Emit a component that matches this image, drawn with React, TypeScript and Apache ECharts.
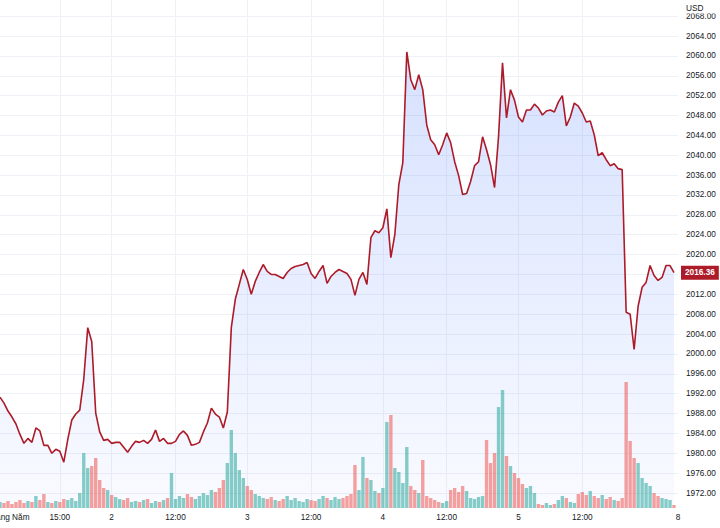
import React, { useEffect, useRef } from "react";
import * as echarts from "echarts";

// Gold price (USD), one sample per slot, 1 May .. 8 May
const prices: number[] = [
  1991.3, 1990.1, 1988.5, 1987.3, 1985.9, 1983.8, 1982.0, 1983.0, 1982.2, 1985.1,
  1984.5, 1981.6, 1981.6, 1980.0, 1980.8, 1980.4, 1978.2, 1982.8, 1986.7, 1987.9,
  1988.7, 1994.9, 2005.3, 2002.5, 1988.1, 1984.3, 1982.6, 1982.8, 1982.0, 1982.2,
  1982.2, 1981.2, 1980.2, 1981.4, 1982.4, 1982.2, 1982.6, 1982.0, 1982.8, 1984.7,
  1982.4, 1983.0, 1982.0, 1982.0, 1982.4, 1983.8, 1984.5, 1983.6, 1981.6, 1981.8,
  1982.2, 1984.3, 1986.1, 1989.1, 1987.9, 1987.3, 1985.1, 1988.3, 2005.3, 2011.0,
  2014.0, 2017.0, 2015.0, 2012.0, 2014.6, 2016.4, 2018.0, 2016.6, 2016.0, 2016.0,
  2015.6, 2015.2, 2016.4, 2017.2, 2017.6, 2017.8, 2018.0, 2018.4, 2016.2, 2015.2,
  2016.6, 2017.8, 2014.2, 2015.6, 2016.4, 2017.0, 2016.6, 2016.2, 2015.0, 2011.8,
  2015.0, 2016.4, 2014.0, 2023.4, 2024.8, 2024.4, 2025.4, 2029.2, 2019.4, 2024.0,
  2034.1, 2038.5, 2060.8, 2055.2, 2053.2, 2056.2, 2053.2, 2046.1, 2043.1, 2042.1,
  2040.1, 2042.1, 2044.5, 2042.5, 2038.7, 2035.9, 2032.1, 2032.3, 2034.7, 2037.9,
  2038.7, 2043.7, 2041.1, 2038.1, 2033.5, 2043.7, 2058.6, 2047.5, 2053.2, 2051.1,
  2047.7, 2046.7, 2049.1, 2049.1, 2050.3, 2049.5, 2048.1, 2048.9, 2049.1, 2048.7,
  2050.7, 2052.0, 2045.9, 2047.7, 2050.5, 2049.9, 2048.5, 2046.7, 2046.9, 2044.1,
  2039.9, 2040.5, 2039.1, 2037.9, 2038.3, 2037.3, 2037.1, 2008.4, 2008.0, 2000.9,
  2009.6, 2013.4, 2014.4, 2017.8, 2015.8, 2014.8, 2015.4, 2017.8, 2017.8, 2016.36,
];

// Traded volume per slot (relative units)
const volumes: number[] = [
  6, 5, 7, 4, 6, 8, 5, 7, 6, 12,
  8, 14, 6, 5, 7, 6, 9, 8, 10, 7,
  15, 55, 40, 42, 50, 28, 20, 18, 13, 11,
  9, 8, 10, 6, 7, 6, 8, 9, 5, 7,
  6, 8, 10, 35, 9, 12, 10, 14, 11, 9,
  12, 15, 13, 18, 16, 20, 28, 45, 78, 55,
  38, 30, 22, 18, 14, 12, 10, 9, 11, 8,
  7, 9, 12, 8, 10, 7, 6, 9, 8, 7,
  9, 12, 10, 8, 11, 9, 10, 12, 14, 43,
  18, 51, 30, 28, 17, 15, 20, 86, 93, 40,
  36, 25, 61, 22, 18, 15, 48, 12, 10, 8,
  6, 5, 7, 18, 20, 16, 22, 17, 10, 9,
  11, 12, 68, 45, 55, 101, 118, 52, 42, 35,
  30, 24, 20, 22, 15, 4, 3, 5, 3, 4,
  8, 12, 10, 6, 5, 14, 16, 13, 17, 12,
  10, 13, 9, 11, 8, 7, 10, 126, 67, 50,
  45, 30, 25, 22, 15, 12, 10, 9, 8, 3,
];

// time-scale labels: slot index -> text
const tickSlots: number[] = [2, 15, 28, 44, 62, 78, 96, 112, 130, 146, 170];
const tickLabels: string[] = ["Tháng Năm", "15:00", "2", "12:00", "3", "12:00", "4", "12:00", "5", "12:00", "8"];
const gridSlots: number[] = [15, 28, 44, 62, 78, 96, 112, 130, 146];

const SLOT_COUNT = 171;
const currency = "USD";

const LINE = "#ad1a28";
const UP = "rgba(38,166,154,0.55)";
const DOWN = "rgba(239,83,80,0.55)";
const GRID = "#eef1f6";
const TEXT = "#131722";
const FONT = "'Liberation Sans', Arial, sans-serif";
const FS = 8.25;

export default function App() {
  const ref = useRef<HTMLDivElement>(null);

  useEffect(() => {
    document.body.style.margin = "0";
    if (!ref.current) return;
    const chart = echarts.init(ref.current, null, { renderer: "svg" });

    const cats = Array.from({ length: SLOT_COUNT }, (_, i) => String(i));
    const labelMap = new Map<number, string>();
    tickSlots.forEach((s, k) => labelMap.set(s, tickLabels[k]));
    const gridSet = new Set<number>(gridSlots);

    const volData = volumes.map((v, i) => ({
      value: v,
      itemStyle: { color: i === 0 || prices[i] >= prices[i - 1] ? UP : DOWN },
    }));
    const last = prices[prices.length - 1];

    chart.setOption({
      animation: false,
      backgroundColor: "#ffffff",
      textStyle: { fontFamily: FONT },
      grid: [
        { left: 0, right: 42, top: 0, bottom: 15.1, containLabel: false, outerBoundsMode: "none" },
        { left: 0, right: 42, top: 0, bottom: 20, containLabel: false, outerBoundsMode: "none" },
      ],
      xAxis: [
        { type: "category", gridIndex: 0, data: cats, boundaryGap: false, show: false },
        {
          type: "category",
          gridIndex: 1,
          data: cats,
          boundaryGap: false,
          axisLine: { show: false },
          axisTick: { show: false },
          axisLabel: {
            interval: (i: number) => labelMap.has(i),
            formatter: (_v: string, i: number) => labelMap.get(i) ?? "",
            color: TEXT,
            fontSize: FS,
            fontFamily: FONT,
            margin: 5,
          },
          splitLine: {
            show: true,
            interval: (i: number) => gridSet.has(i),
            lineStyle: { color: GRID, width: 1 },
          },
        },
      ],
      yAxis: [
        {
          type: "value",
          gridIndex: 0,
          position: "right",
          min: 1968,
          max: 2071.25,
          interval: 4,
          axisLine: { show: false },
          axisTick: { show: false },
          axisLabel: {
            formatter: (v: number) => (Math.abs(v - last) < 2.5 ? "" : v.toFixed(2)),
            showMinLabel: false,
            showMaxLabel: false,
            color: TEXT,
            fontSize: FS,
            fontFamily: FONT,
            margin: 8,
          },
          splitLine: {
            show: true,
            showMinLine: false,
            showMaxLine: false,
            lineStyle: { color: GRID, width: 1 },
          },
        },
        { type: "value", gridIndex: 1, min: 0, max: 508, show: false },
      ],
      series: [
        {
          type: "line",
          xAxisIndex: 0,
          yAxisIndex: 0,
          data: prices,
          symbol: "none",
          lineStyle: { width: 0 },
          areaStyle: {
            origin: 1969,
            color: new echarts.graphic.LinearGradient(0, 0, 0, 1, [
              { offset: 0, color: "rgba(41,98,255,0.27)" },
              { offset: 1, color: "rgba(41,98,255,0.04)" },
            ]),
          },
          z: 1,
          silent: true,
        },
        {
          type: "bar",
          xAxisIndex: 1,
          yAxisIndex: 1,
          data: volData,
          barCategoryGap: "15%",
          z: 2,
          silent: true,
        },
        {
          type: "line",
          xAxisIndex: 0,
          yAxisIndex: 0,
          data: prices,
          symbol: "none",
          lineStyle: { color: LINE, width: 1.6 },
          z: 3,
          silent: true,
          markLine: {
            silent: true,
            symbol: "none",
            lineStyle: { color: "rgba(0,0,0,0)", width: 0 },
            data: [{ yAxis: last }],
            label: {
              show: true,
              position: "end",
              distance: 3,
              formatter: () => last.toFixed(2),
              color: "#ffffff",
              backgroundColor: LINE,
              padding: [3, 4, 3, 4],
              fontSize: FS,
              fontWeight: "bold",
              fontFamily: FONT,
              opacity: 1,
            },
          },
        },
      ],
      graphic: [
        { type: "rect", right: 0, top: 0, shape: { width: 40, height: 13.5 }, style: { fill: "#ffffff" }, z: 10 },
        {
          type: "text",
          x: 686,
          y: 8,
          z: 11,
          style: { text: currency, fill: TEXT, font: `${FS}px ${FONT}`, verticalAlign: "middle" },
        },
      ],
    });

    return () => chart.dispose();
  }, []);

  return <div ref={ref} style={{ width: 720, height: 528 }} />;
}
